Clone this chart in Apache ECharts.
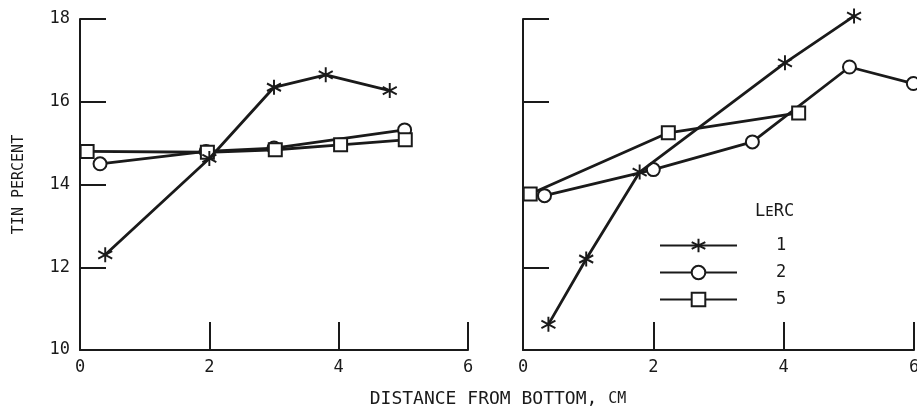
<!DOCTYPE html>
<html>
<head>
<meta charset="utf-8">
<script src="https://cdn.jsdelivr.net/npm/echarts@6/dist/echarts.min.js"></script>
<style>
  html, body { margin: 0; padding: 0; background: #fff; }
  #chart { width: 917px; height: 410px; }
</style>
</head>
<body>
<div id="chart"></div>
<script>
// Tin content vs distance from bottom, two castings, three LeRC runs each
const xTicks = [0, 2, 4, 6];
const yTicks = [10, 12, 14, 16, 18];
const seriesNames = ['1', '2', '5'];

// Left panel: [distance cm, tin %]
const left1 = [[0.39, 12.3], [2.0, 14.63], [3.0, 16.35], [3.8, 16.65], [4.79, 16.27]];
const left2 = [[0.31, 14.5], [1.95, 14.8], [3.0, 14.88], [5.02, 15.32]];
const left5 = [[0.11, 14.8], [1.97, 14.78], [3.02, 14.84], [4.03, 14.96], [5.03, 15.08]];

// Right panel
const right1 = [[0.39, 10.62], [0.97, 12.2], [1.79, 14.3], [4.02, 16.94], [5.08, 18.07]];
const right2 = [[0.33, 13.73], [2.0, 14.36], [3.52, 15.03], [5.01, 16.84], [5.99, 16.44]];
const right5 = [[0.11, 13.77], [2.23, 15.25], [4.23, 15.73]];

const ink = '#1a1a1a';
const mono = 'DejaVu Sans Mono';
const asterisk = 'path://M10,0L10,20M1.34,5L18.66,15M1.34,15L18.66,5';
const symbols = { '1': asterisk, '2': 'circle', '5': 'rect' };
const sizes = { '1': [14, 15], '2': 13, '5': 13 };

function makeSeries(name, data, idx) {
  return {
    type: 'line',
    name: name,
    xAxisIndex: idx,
    yAxisIndex: idx,
    data: data,
    symbol: symbols[name],
    symbolSize: sizes[name],
    showAllSymbol: true,
    clip: false,
    lineStyle: { color: ink, width: 2.8 },
    itemStyle: { color: '#fff', borderColor: ink, borderWidth: 2 },
    emphasis: { disabled: true },
    z: name === '1' ? 3 : 2
  };
}

function xAxis(gridIndex) {
  return {
    type: 'value', gridIndex: gridIndex, min: 0, max: 6, interval: 2,
    axisLine: { lineStyle: { color: ink, width: 2 } },
    axisTick: { inside: true, length: 28, lineStyle: { color: ink, width: 2 } },
    axisLabel: { color: ink, fontFamily: mono, fontSize: 17, margin: 9,
                 formatter: v => xTicks.includes(v) ? String(v) : '' },
    splitLine: { show: false }
  };
}

function yAxis(gridIndex, showLabels, tickValues) {
  return {
    type: 'value', gridIndex: gridIndex, min: 10, max: 18, interval: 2,
    name: showLabels ? 'TIN PERCENT' : '',
    nameLocation: 'middle', nameRotate: 90, nameGap: 53,
    nameTextStyle: { color: ink, fontFamily: mono, fontSize: 15 },
    axisLine: { lineStyle: { color: ink, width: 2 } },
    axisTick: { inside: true, length: 26, customValues: tickValues,
                lineStyle: { color: ink, width: 2 } },
    axisLabel: { show: showLabels, color: ink, fontFamily: mono, fontSize: 17, margin: 10,
                 formatter: v => yTicks.includes(v) ? String(v) : '' },
    splitLine: { show: false }
  };
}

const chart = echarts.init(document.getElementById('chart'), null, { renderer: 'canvas' });
chart.setOption({
  backgroundColor: '#fff',
  animation: false,
  grid: [
    { left: 80, width: 388, top: 19, height: 331, outerBoundsMode: 'none' },
    { left: 523, width: 391, top: 19, height: 331, outerBoundsMode: 'none' }
  ],
  xAxis: [xAxis(0), xAxis(1)],
  yAxis: [yAxis(0, true, yTicks), yAxis(1, false, [12, 16, 18])],
  legend: {
    data: seriesNames,
    orient: 'vertical',
    left: 654, top: 232,
    itemWidth: 77, itemHeight: 17, itemGap: 10,
    selectedMode: false,
    textStyle: { color: ink, fontFamily: mono, fontSize: 17, padding: [0, 0, 0, 34] }
  },
  graphic: [
    {
      type: 'text', left: 755, top: 203,
      style: {
        text: '{a|L}{b|E}{a|RC}',
        rich: {
          a: { fontFamily: mono, fontSize: 17, fill: ink, verticalAlign: 'bottom' },
          b: { fontFamily: mono, fontSize: 14, fill: ink, verticalAlign: 'bottom', padding: [0, 0, 1, 0] }
        }
      }
    },
    {
      type: 'text', x: 498, y: 399,
      style: {
        text: '{a|DISTANCE FROM BOTTOM, }{b|CM}',
        align: 'center', verticalAlign: 'middle',
        rich: {
          a: { fontFamily: mono, fontSize: 18, fill: ink, verticalAlign: 'bottom' },
          b: { fontFamily: mono, fontSize: 15, fill: ink, verticalAlign: 'bottom', padding: [0, 0, 1, 0] }
        }
      }
    }
  ],
  series: [
    makeSeries('1', left1, 0), makeSeries('2', left2, 0), makeSeries('5', left5, 0),
    makeSeries('1', right1, 1), makeSeries('2', right2, 1), makeSeries('5', right5, 1)
  ]
});
</script>
</body>
</html>
